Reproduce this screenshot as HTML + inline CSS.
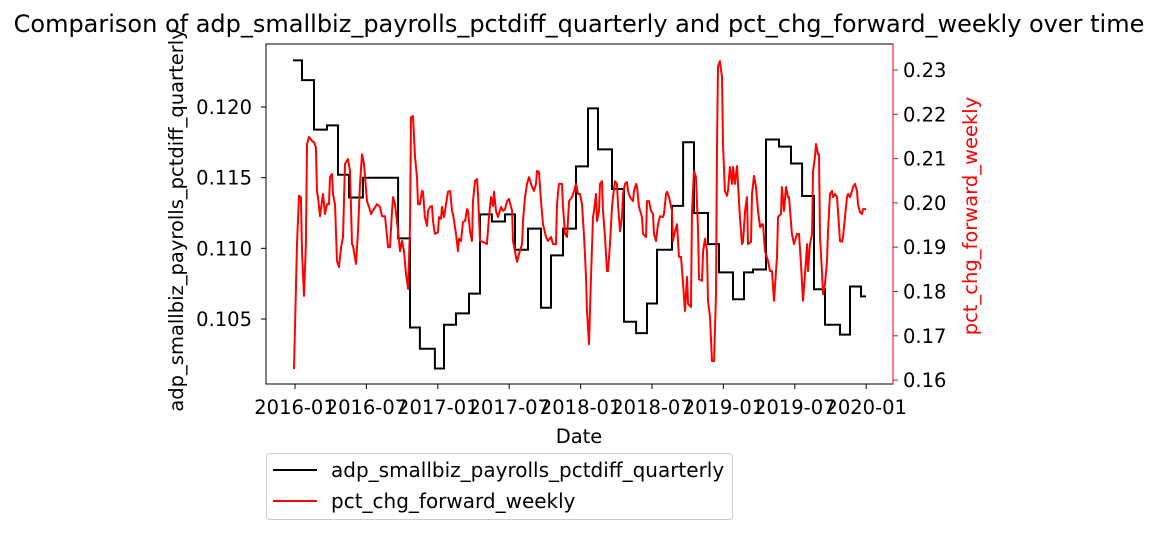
<!DOCTYPE html>
<html><head><meta charset="utf-8"><style>
html,body{margin:0;padding:0;background:#fff;width:1159px;height:534px;overflow:hidden}
svg{font-family:"DejaVu Sans","Liberation Sans",sans-serif}
</style></head><body>
<svg id="chart" width="1159" height="534" viewBox="0 0 1159 534" xmlns="http://www.w3.org/2000/svg">
<g id="marks"></g>
<rect x="266" y="44" width="627" height="340" fill="none" stroke="#000" stroke-width="1"/>
<g id="axes"></g>
<text x="579" y="443" font-size="19.5" text-anchor="middle">Date</text>
<text transform="translate(183,220) rotate(-90)" font-size="19.5" text-anchor="middle">adp_smallbiz_payrolls_pctdiff_quarterly</text>
<text transform="translate(977,216) rotate(-90)" font-size="19.5" text-anchor="middle" fill="#ff0000">pct_chg_forward_weekly</text>
<text x="579" y="32" font-size="24" text-anchor="middle">Comparison of adp_smallbiz_payrolls_pctdiff_quarterly and pct_chg_forward_weekly over time</text>
<g>
<rect x="266.5" y="453.5" width="466" height="66" rx="3" fill="#fff" stroke="#ccc"/>
<line x1="273" y1="470" x2="317" y2="470" stroke="#000" stroke-width="2"/>
<text x="331" y="477" font-size="20">adp_smallbiz_payrolls_pctdiff_quarterly</text>
<line x1="273" y1="501" x2="317" y2="501" stroke="#ff0000" stroke-width="2"/>
<text x="331" y="508" font-size="20">pct_chg_forward_weekly</text>
</g>
</svg>
<script>
const blackStartMonths=[-0.17,0.59,1.6,2.69,3.61,4.54,5.71,6.64,8.66,9.66,10.5,11.76,12.52,13.53,14.62,15.55,16.55,17.65,18.49,19.58,20.67,21.51,22.52,23.61,24.62,25.46,26.64,27.65,28.66,29.58,30.42,31.68,32.61,33.53,34.71,35.63,36.81,37.73,38.49,39.58,40.67,41.68,42.61,43.61,44.54,45.8,46.64,47.56];
const blackEndMonth=47.98;
const blackValues=[0.1233,0.1219,0.1184,0.1187,0.1152,0.1136,0.1150,0.1150,0.1107,0.1044,0.1029,0.1015,0.1046,0.1054,0.1068,0.1124,0.1119,0.1124,0.1099,0.1114,0.1058,0.1095,0.1114,0.1158,0.1199,0.1170,0.1142,0.1048,0.1040,0.1061,0.1099,0.1130,0.1175,0.1125,0.1103,0.1083,0.1064,0.1083,0.1085,0.1177,0.1172,0.1160,0.1137,0.1071,0.1046,0.1039,0.1073,0.1066];
const redMonthsA=[-0.08,0.17,0.34,0.5,0.59,0.76,0.92,1.01,1.18,1.43,1.6,1.76,1.85,1.93,2.1,2.27,2.35,2.52,2.69,2.86,2.94,3.11,3.19,3.36,3.53,3.7,3.87,4.03,4.2,4.45,4.62,4.79,4.87,5.13,5.29,5.46,5.63,5.8,6.05,6.22,6.39,6.55,6.89,7.14,7.31,7.56,7.82,7.98,8.15,8.24,8.4,8.66,8.82,8.99,9.16,9.33,9.5,9.66,9.75,9.92,10.08,10.25,10.34,10.5,10.67,10.76,10.92,11.09,11.18,11.34,11.51,11.6,11.76,12.02,12.1,12.27,12.35,12.52,12.69,12.86,13.03,13.19,13.28,13.53,13.7,13.78,13.95,14.12,14.29,14.45,14.54,14.71,14.87,14.96,15.13,15.29,15.38,15.55,15.8];
const redValuesA=[0.1625,0.1907,0.2016,0.2013,0.1891,0.1790,0.1907,0.2133,0.2149,0.2140,0.2137,0.2126,0.2025,0.2013,0.1970,0.2004,0.2020,0.1975,0.1997,0.1997,0.2058,0.2065,0.2020,0.1997,0.1869,0.1855,0.1900,0.1923,0.2088,0.2099,0.2072,0.1907,0.1903,0.1862,0.1936,0.2043,0.2110,0.2088,0.2004,0.1991,0.1975,0.1982,0.1997,0.1991,0.1970,0.1970,0.1900,0.1900,0.1982,0.2013,0.1997,0.1936,0.1891,0.1914,0.1891,0.1840,0.1806,0.1945,0.2194,0.2196,0.2104,0.2058,0.1997,0.1997,0.2027,0.2025,0.1968,0.1948,0.1982,0.1991,0.1993,0.1959,0.1930,0.1934,0.1968,0.1964,0.1991,0.1968,0.1997,0.2025,0.2027,0.1982,0.1975,0.1930,0.1891,0.1919,0.1914,0.1957,0.1959,0.1986,0.1982,0.1936,0.1914,0.2004,0.2049,0.2054,0.2020,0.1914,0.1912];
const redMonthsB=[16.13,16.3,16.47,16.64,16.72,16.89,17.06,17.31,17.48,17.65,17.82,17.98,18.24,18.32,18.57,18.66,18.82,19.08,19.16,19.33,19.5,19.66,19.92,20.08,20.25,20.34,20.5,20.67,20.84,21.09,21.26,21.51,21.68,21.93,22.02,22.18,22.44,22.52,22.69,22.86,23.03,23.28,23.45,23.61,23.78,23.95,24.12,24.29,24.45,24.54,24.71,24.87,25.04,25.13,25.29,25.38,25.55,25.63,25.8,25.88,26.05,26.22,26.3,26.47,26.64,26.72,26.89,27.06,27.14,27.31,27.48,27.56,27.73,27.9,27.98,28.15,28.4,28.49,28.66,28.74,28.91,29.16,29.24,29.5,29.58,29.75,29.92,30.08,30.17,30.34,30.5,30.67,30.92,31.01,31.18,31.26,31.43,31.68,31.76,31.93,32.1,32.27];
const redValuesB=[0.1907,0.1968,0.2013,0.1993,0.2025,0.1982,0.1968,0.1991,0.1982,0.1986,0.2004,0.2009,0.1982,0.1914,0.1878,0.1867,0.1885,0.1907,0.1959,0.2013,0.2043,0.2058,0.2036,0.2027,0.2043,0.2072,0.2070,0.2004,0.1952,0.1923,0.1914,0.1923,0.1907,0.1907,0.1997,0.2043,0.2043,0.1991,0.1930,0.1923,0.2004,0.2013,0.2027,0.2043,0.2020,0.2020,0.1997,0.1923,0.1833,0.1756,0.1681,0.1833,0.1968,0.1982,0.2020,0.1959,0.1982,0.2043,0.2049,0.1982,0.1923,0.1846,0.1846,0.1907,0.1991,0.2013,0.2049,0.2043,0.1997,0.1936,0.1968,0.2020,0.2043,0.2047,0.2027,0.2013,0.2004,0.2027,0.2043,0.2036,0.1991,0.1968,0.1930,0.1923,0.2004,0.2004,0.1982,0.1975,0.1930,0.1914,0.1952,0.1970,0.1968,0.1975,0.2020,0.2025,0.2013,0.1982,0.1914,0.1936,0.1952,0.1878];
const redMonthsC=[32.44,32.61,32.77,32.94,33.03,33.28,33.36,33.53,33.7,33.87,33.95,34.2,34.29,34.45,34.62,34.71,34.87,35.04,35.21,35.38,35.46,35.55,35.71,35.88,35.97,36.13,36.3,36.39,36.55,36.72,36.81,36.97,37.14,37.23,37.39,37.56,37.65,37.82,37.98,38.07,38.32,38.4,38.57,38.74,38.91,39.08,39.24,39.33,39.5,39.75,39.92,40.08,40.25,40.5,40.59,40.84,40.92,41.09,41.26,41.43,41.51,41.76,41.93,42.18,42.35,42.52,42.69,42.86,43.03,43.11,43.28,43.45,43.53,43.7,43.78,43.95,44.03,44.12,44.29,44.37,44.54,44.71,44.79,44.96,45.13,45.21,45.38,45.55,45.63,45.8,45.97,46.05,46.22,46.39,46.47,46.64,46.81,46.89,47.06,47.23,47.31,47.48,47.65,47.73,47.98];
const redValuesC=[0.1878,0.1817,0.1756,0.1833,0.1772,0.1765,0.1982,0.2072,0.2058,0.1936,0.1828,0.1824,0.1891,0.1919,0.1891,0.1779,0.1742,0.1643,0.1643,0.1794,0.2133,0.2307,0.2320,0.2284,0.2133,0.2027,0.2016,0.2027,0.2081,0.2043,0.2081,0.2043,0.2083,0.2043,0.1968,0.1907,0.1912,0.1982,0.2013,0.1907,0.1912,0.2020,0.2061,0.2036,0.1982,0.1945,0.1952,0.1952,0.1891,0.1869,0.1846,0.1846,0.1779,0.1878,0.1968,0.1975,0.2036,0.1982,0.2036,0.2013,0.2013,0.1930,0.1907,0.1930,0.1930,0.1862,0.1779,0.1840,0.1907,0.1846,0.1907,0.1930,0.2072,0.2104,0.2133,0.2110,0.2110,0.1923,0.1840,0.1794,0.1817,0.1869,0.1936,0.2020,0.2027,0.2013,0.2020,0.2013,0.1982,0.1914,0.1912,0.1923,0.1968,0.2013,0.2020,0.2013,0.2027,0.2036,0.2043,0.2027,0.1997,0.1979,0.1975,0.1986,0.1986];
const xTickLabels=["2016-01","2016-07","2017-01","2017-07","2018-01","2018-07","2019-01","2019-07","2020-01"];
const xTickMonths=[0,6,12,18,24,30,36,42,48];
const leftTicks=[0.105,0.110,0.115,0.120];
const rightTicks=[0.16,0.17,0.18,0.19,0.20,0.21,0.22,0.23];

const NS="http://www.w3.org/2000/svg";
function xs(m){return 295+m*11.9;}
function yl(v){return 107+(0.120-v)*14134;}
function yr(v){return 70+(0.23-v)*4430;}
function mk(tag,attrs,parent){const e=document.createElementNS(NS,tag);for(const k in attrs)e.setAttribute(k,attrs[k]);parent.appendChild(e);return e;}
const marks=document.getElementById('marks'), axes=document.getElementById('axes');

let d="";
blackValues.forEach((v,i)=>{const x0=xs(blackStartMonths[i]);const x1=xs(i+1<blackStartMonths.length?blackStartMonths[i+1]:blackEndMonth);d+=(i===0?"M":"L")+x0.toFixed(1)+","+yl(v).toFixed(1)+"L"+x1.toFixed(1)+","+yl(v).toFixed(1);});
const bl=mk('path',{d:d,fill:"none",stroke:"#000","stroke-width":2},marks);



const redMonths=redMonthsA.concat(redMonthsB,redMonthsC);
const redValues=redValuesA.concat(redValuesB,redValuesC);
let dr="";
redValues.forEach((v,i)=>{dr+=(i===0?"M":"L")+xs(redMonths[i]).toFixed(1)+","+yr(v).toFixed(1);});
const rl=mk('path',{d:dr,fill:"none",stroke:"#ff0000","stroke-width":2,"stroke-linejoin":"round"},marks);



xTickLabels.forEach((lab,i)=>{const x=xs(xTickMonths[i]);
mk('line',{x1:x,y1:384,x2:x,y2:389,stroke:"#000"},axes);
const t=mk('text',{x:x,y:414,"font-size":19.5,"text-anchor":"middle"},axes);t.textContent=lab;

});
leftTicks.forEach(v=>{const y=yl(v);
mk('line',{x1:261,y1:y,x2:266,y2:y,stroke:"#000"},axes);
const t=mk('text',{x:252,y:y+7,"font-size":19.5,"text-anchor":"end"},axes);t.textContent=v.toFixed(3);

});
mk('line',{x1:893,y1:44,x2:893,y2:384,stroke:"#ff0000"},axes);
rightTicks.forEach(v=>{const y=yr(v);
mk('line',{x1:893,y1:y,x2:898,y2:y,stroke:"#ff0000"},axes);
const t=mk('text',{x:903,y:y+7,"font-size":19.5},axes);t.textContent=v.toFixed(2);

});
</script>
</body></html>
